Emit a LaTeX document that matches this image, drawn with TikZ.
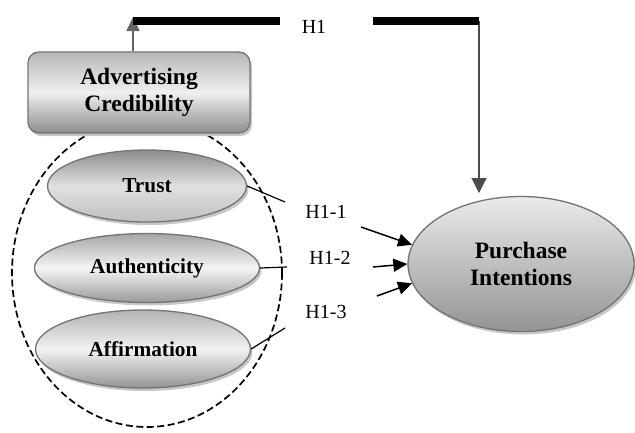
\documentclass[tikz,border=0pt]{standalone}
\usepackage{fontspec}
\setmainfont{Liberation Serif}
\usetikzlibrary{shapes.geometric,shadows,arrows.meta}
\begin{document}
\begin{tikzpicture}[x=1pt,y=-1pt,
  blob/.style={ellipse, draw=black!55, line width=1.3pt, inner sep=0pt, align=center,
    font=\fontsize{21.3}{26}\selectfont\bfseries,
    drop shadow={shadow xshift=2pt, shadow yshift=-3pt, opacity=1, fill=black!22}},
  big/.style={font=\fontsize{23.5}{26.5}\selectfont\bfseries},
  hlabel/.style={font=\fontsize{20}{22}\selectfont, inner sep=0pt},
  tip/.style={-{Triangle[length=14pt,width=13pt]}},
  bar/.style={line width=8pt}]
\useasboundingbox (0,0) rectangle (635,432);
\draw[dashed, dash pattern=on 7pt off 3.5pt, line width=1.7pt] (147,273) ellipse [x radius=135, y radius=154];
\node[blob, big, rectangle, rounded corners=11pt, minimum width=222, minimum height=81, top color=black!28, bottom color=black!45, middle color=black!6] (adc) at (139,92.5) {Advertising\\Credibility};
\node[blob, minimum width=199, minimum height=72, top color=black!45, bottom color=black!25, middle color=black!12] (tid1) at (147,186) {Trust};
\node[blob, minimum width=225, minimum height=69, top color=black!35, bottom color=black!40, middle color=black!4] (tid2) at (147,268) {Authenticity};
\node[blob, minimum width=215, minimum height=78, top color=black!30, bottom color=black!42, middle color=black!5] (tid3) at (143,349) {Affirmation};
\node[blob, big, minimum width=226, minimum height=135, top color=black!8, bottom color=black!42] (pint) at (521,264) {Purchase\\Intentions};
\node[hlabel] (h1) at (314,27) {H1};
\node[hlabel] (h11) at (326,212) {H1-1};
\node[hlabel] (h12) at (330,258) {H1-2};
\node[hlabel] (h13) at (326,312) {H1-3};
\coordinate (barL) at (133,21);
\coordinate (barLe) at (280,21);
\coordinate (barR) at (373,21);
\coordinate (barRe) at (479,21);
\coordinate (down) at (479,193);
\coordinate (t1) at (285,202);
\coordinate (t2) at (287,267);
\coordinate (t3) at (285,328);
\coordinate (a1) at (361,227);
\coordinate (a2) at (373,267);
\coordinate (a3) at (377,296);
\draw[tip, draw=black!60, line width=1.6pt] (adc.north -| barL) -- ([yshift=4]barL);
\draw[-{Triangle[length=15pt,width=15pt]}, draw=black!70, line width=1.1pt] (barRe) -- (down);
\draw[bar] (barL) -- (barLe);
\draw[bar] (barR) -- (barRe);
\draw[line width=1.2pt](tid1.east) -- (t1);
\draw[line width=1.2pt](tid2.east) -- (t2);
\draw[line width=1.2pt](tid3.east) -- (t3);
\draw[tip, line width=1.5pt](a1) -- (pint.170);
\draw[tip, line width=1.5pt](a2) -- (pint.west);
\draw[tip, line width=1.5pt](a3) -- (pint.190);
\end{tikzpicture}
\end{document}
